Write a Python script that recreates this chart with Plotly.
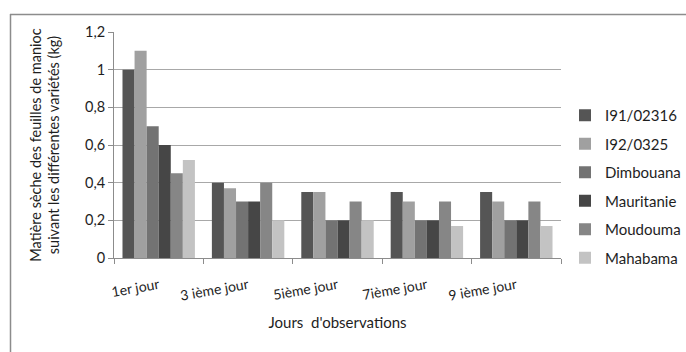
import plotly.graph_objects as go

# Observation days (x categories)
jours = ["1er jour", "3 ième jour", "5ième jour", "7ième jour", "9 ième jour"]

# Dry matter of cassava leaves (kg) per variety
i91_02316 = [1.0, 0.40, 0.35, 0.35, 0.35]
i92_0325 = [1.1, 0.37, 0.35, 0.30, 0.30]
dimbouana = [0.70, 0.30, 0.20, 0.20, 0.20]
mauritanie = [0.60, 0.30, 0.20, 0.20, 0.20]
moudouma = [0.45, 0.40, 0.30, 0.30, 0.30]
mahabama = [0.52, 0.20, 0.20, 0.17, 0.17]

varietes = ["I91/02316", "I92/0325", "Dimbouana", "Mauritanie", "Moudouma", "Mahabama"]
series = [i91_02316, i92_0325, dimbouana, mauritanie, moudouma, mahabama]
couleurs = ["#555555", "#a0a0a0", "#737373", "#464646", "#868686", "#c3c3c3"]

y_ticks = [0, 0.2, 0.4, 0.6, 0.8, 1.0, 1.2]
y_ticktext = ["0", "0,2", "0,4", "0,6", "0,8", "1", "1,2"]

FONT = "Lato, 'Open Sans', sans-serif"
TXT = "#1e1e1e"

fig = go.Figure()
for nom, vals, col in zip(varietes, series, couleurs):
    fig.add_trace(go.Bar(
        x=jours, y=vals, name=nom, marker_color=col,
        marker_line_width=0, legendgroup=nom,
    ))

L, R, T, B = 114, 125, 32, 94
W, H = 686, 352
pw, ph = W - L - R, H - T - B


def px_x(px):
    return (px - L) / pw


def px_y(py):
    return (H - B - py) / ph


grey = "#8c8c8c"
fig.add_shape(type="line", xref="paper", yref="paper",
              x0=px_x(10), x1=px_x(686), y0=px_y(14.5), y1=px_y(14.5),
              line=dict(color=grey, width=1.5))
fig.add_shape(type="line", xref="paper", yref="paper",
              x0=px_x(10.5), x1=px_x(10.5), y0=px_y(14), y1=px_y(352),
              line=dict(color=grey, width=1.5))

fig.update_layout(
    width=W, height=H,
    margin=dict(l=L, r=R, t=T, b=B, autoexpand=False),
    paper_bgcolor="white", plot_bgcolor="white",
    barmode="group", bargap=0.19, bargroupgap=0,
    font=dict(family=FONT, size=14, color=TXT),
    showlegend=True,
    legend=dict(
        xref="container", yref="container",
        x=565 / W, xanchor="left", y=1 - 99 / H, yanchor="top",
        font=dict(family=FONT, size=15, color=TXT),
        tracegroupgap=6, itemwidth=30, bgcolor="rgba(0,0,0,0)",
    ),
    xaxis=dict(
        type="category", showgrid=False,
        showline=True, linecolor=grey, linewidth=1,
        ticks="outside", tickson="boundaries", ticklen=5, tickcolor=grey,
        tickangle=-10, ticklabelstandoff=13,
        tickfont=dict(family=FONT, size=14, color=TXT),
        title=dict(text="Jours  d'observations", standoff=14,
                   font=dict(family=FONT, size=15, color=TXT)),
    ),
    yaxis=dict(
        range=[0, 1.2], tickvals=y_ticks, ticktext=y_ticktext,
        showgrid=True, gridcolor="#a8a8a8", gridwidth=1,
        showline=True, linecolor=grey, linewidth=1,
        ticks="outside", ticklen=5, tickcolor=grey,
        tickfont=dict(family=FONT, size=14.5, color=TXT),
        zeroline=False,
        title=dict(text="Matière sèche des feuilles de manioc<br>suivant les différentes variétés (kg)",
                   standoff=21,
                   font=dict(family=FONT, size=14.5, color=TXT)),
    ),
)

fig.write_html("out.html")
